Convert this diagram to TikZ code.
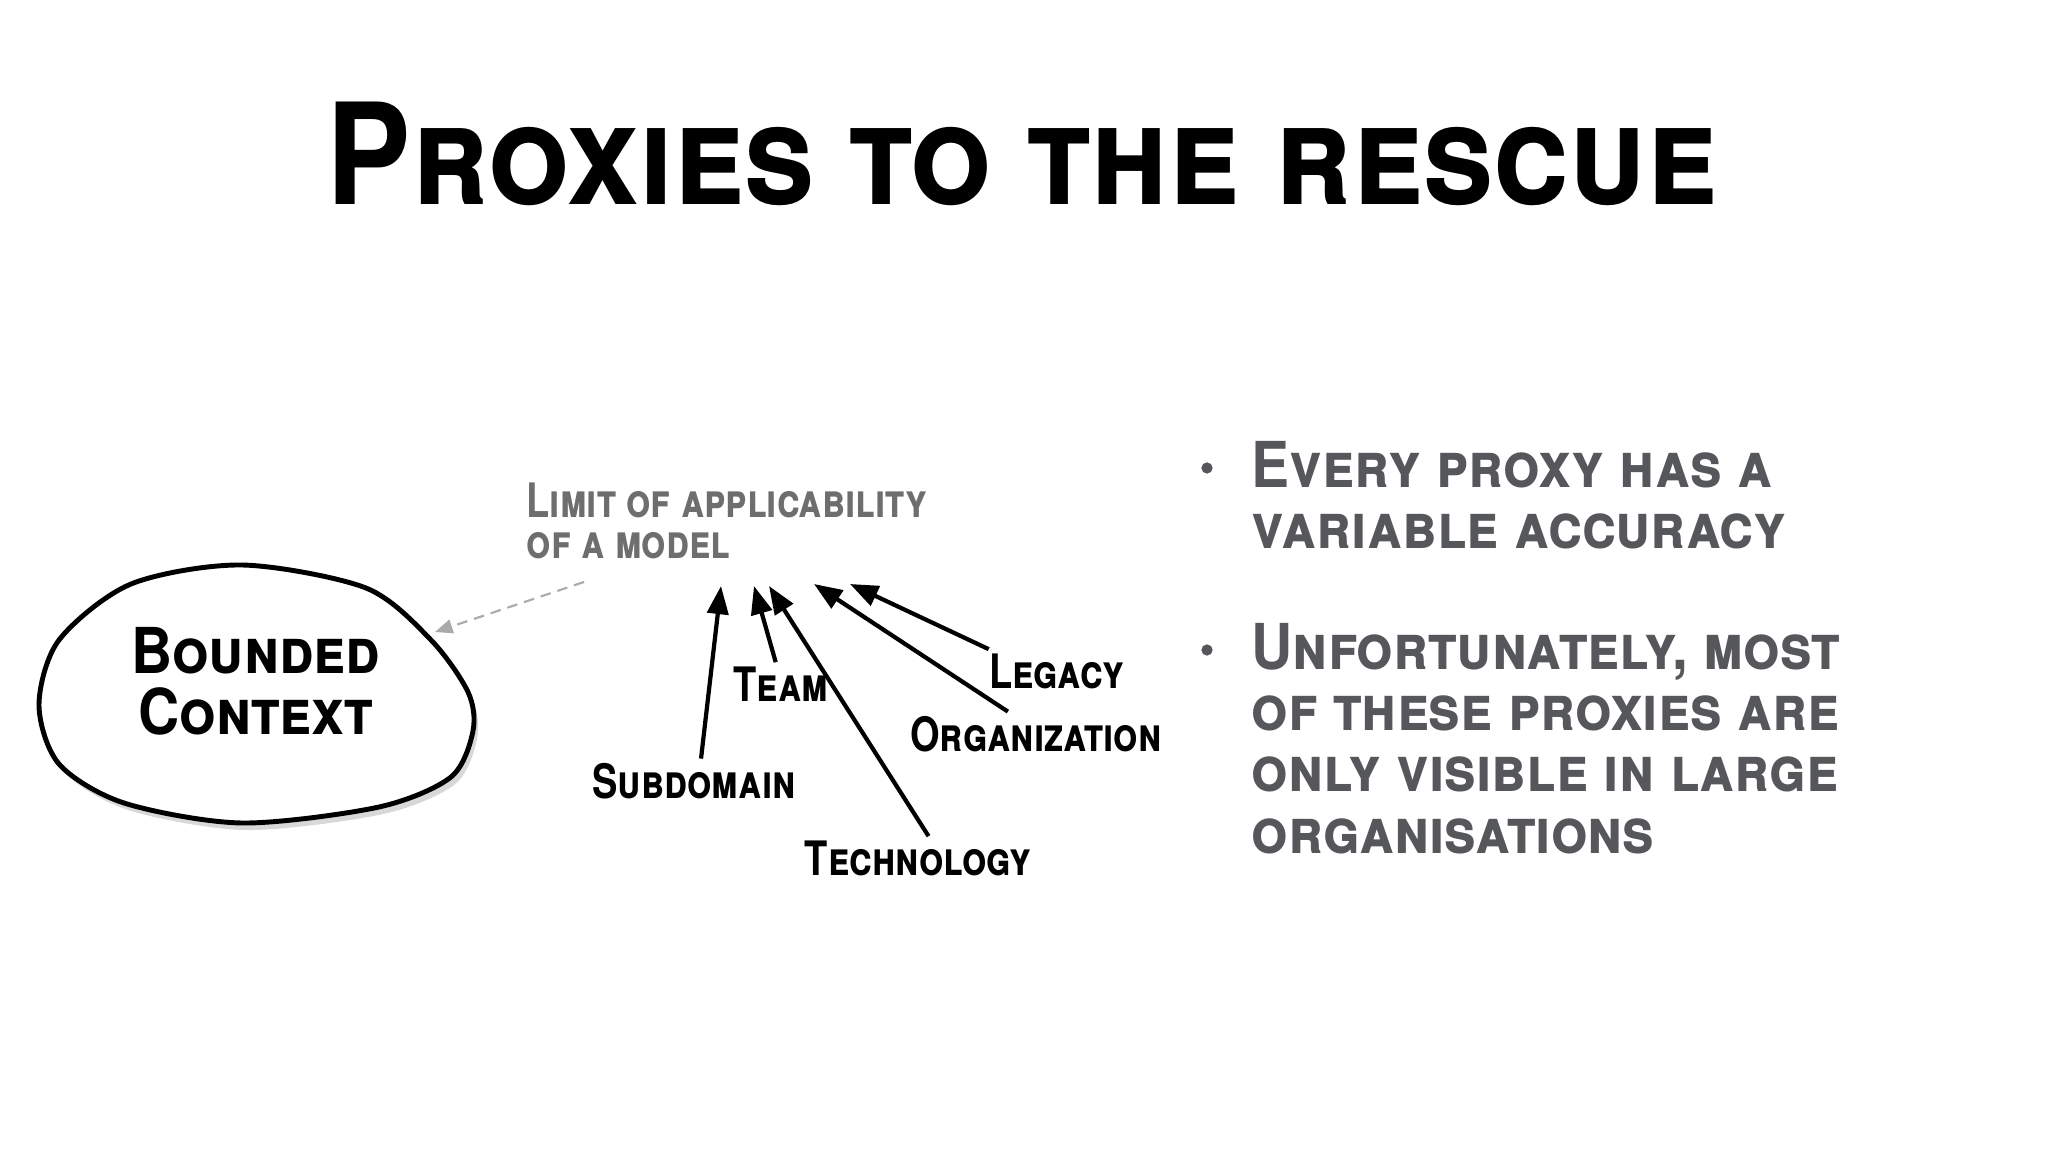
\documentclass[tikz,border=0pt]{standalone}
\usepackage{fontspec}
\setmainfont{TeX Gyre Heros}[FakeStretch=0.9]
\newfontfamily\narrowheros{TeX Gyre Heros}[FakeStretch=0.8]
\usetikzlibrary{arrows.meta}

\definecolor{hintgray}{RGB}{110,110,110}
\definecolor{dashgray}{RGB}{170,170,170}
\definecolor{textgray}{RGB}{85,87,91}

\begin{document}
\begin{tikzpicture}[x=0.01cm, y=-0.01cm,
    every node/.style = {inner sep=0pt, font=\bfseries\scshape},
    heading/.style = {anchor=base, font=\fontsize{40}{40}\selectfont\bfseries\scshape},
    proxyname/.style = {anchor=base, font=\narrowheros\fontsize{13.5}{13.5}\selectfont\bfseries\scshape},
    proxy/.style = {line width=1.2pt, -{Triangle[length=8pt, width=6pt]}},
    hint/.style = {draw=dashgray, line width=0.6pt, dash pattern=on 3pt off 2pt, -{Triangle[length=5pt, width=4pt, fill=dashgray]}},
    bullettext/.style = {anchor=base west, align=left, text=textgray, font=\fontsize{18}{17.4}\selectfont\bfseries\scshape},
    bulletdot/.style = {circle, fill=textgray, minimum size=3.2pt}]

    \fill[white] (0,0) rectangle (2048,1152);
    \useasboundingbox (0,0) rectangle (2048,1152);

    \node (title) [heading] at (1022,205) {Proxies to the rescue};

    \fill[black!30, opacity=0.5, xshift=1.2pt, yshift=-2pt] plot[smooth cycle] coordinates {(242,565) (366,588) (431,640) (468,692) (473,731) (451,777) (379,807) (242,823) (124,803) (59,764) (39,705) (59,640) (131,584)};
    \draw[line width=1.4pt, fill=white] plot[smooth cycle] coordinates {(242,565) (366,588) (431,640) (468,692) (473,731) (451,777) (379,807) (242,823) (124,803) (59,764) (39,705) (59,640) (131,584)};
    \node (bc) [anchor=base, align=center, font=\fontsize{18}{17.6}\selectfont\bfseries\scshape] at (256,735) {Bounded\\Context};

    \node (limit) [anchor=base west, align=left, text=hintgray, font=\narrowheros\fontsize{13.5}{11.4}\selectfont\bfseries\scshape] at (526,558) {Limit of applicability\\of a model};
    \coordinate (bcEdge) at (435,632);
    \draw[hint] ([xshift=16.5pt, yshift=-6.5pt]limit.south west) -- (bcEdge);

    \node (subdomain) [proxyname] at (694,798) {Subdomain};
    \node (team) [proxyname] at (781,701) {Team};
    \node (technology) [proxyname] at (918,875) {Technology};
    \node (organization) [proxyname] at (1036,751) {Organization};
    \node (legacy) [proxyname] at (1057,688) {Legacy};

    \coordinate (tipS) at (721,586);
    \coordinate (tipT) at (754,586);
    \coordinate (tipTe) at (769,586);
    \coordinate (tipO) at (814,584);
    \coordinate (tipL) at (850,584);

    \draw[proxy] ([xshift=2pt, yshift=1pt]subdomain.north) -- (tipS);
    \draw[proxy] ([xshift=-1.5pt, yshift=1pt]team.north) -- (tipT);
    \draw[proxy] ([xshift=3pt, yshift=1pt]technology.north) -- (tipTe);
    \draw[proxy] ([xshift=-8pt, yshift=1pt]organization.north) -- (tipO);
    \draw[proxy] ([yshift=1pt]legacy.north west) -- (tipL);

    \node (dot1) [bulletdot] at (1207,468) {};
    \node (dot2) [bulletdot] at (1207,650) {};
    \node (point1) [bullettext] at (1251,549) {Every proxy has a\\variable accuracy};
    \node (point2) [bullettext] at (1251,853) {Unfortunately, most\\of these proxies are\\only visible in large\\organisations};
\end{tikzpicture}
\end{document}
